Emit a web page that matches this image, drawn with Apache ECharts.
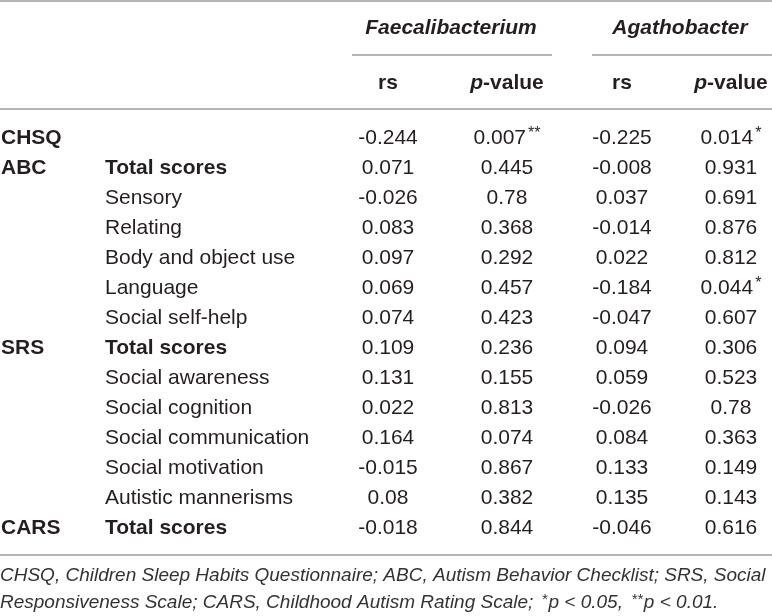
<!DOCTYPE html>
<html>
<head>
<meta charset="utf-8">
<script src="https://cdn.jsdelivr.net/npm/echarts@6/dist/echarts.min.js"></script>
<style>
html, body { margin: 0; padding: 0; background: #fff; }
#main { width: 772px; height: 616px; }
</style>
</head>
<body>
<div id="main"></div>
<script>
// table content
const groups = ['CHSQ', 'ABC', '', '', '', '', '', 'SRS', '', '', '', '', '', 'CARS'];
const subLabels = ['', 'Total scores', 'Sensory', 'Relating', 'Body and object use', 'Language', 'Social self-help',
    'Total scores', 'Social awareness', 'Social cognition', 'Social communication', 'Social motivation',
    'Autistic mannerisms', 'Total scores'];
const faecRs = ['-0.244', '0.071', '-0.026', '0.083', '0.097', '0.069', '0.074', '0.109', '0.131', '0.022', '0.164', '-0.015', '0.08', '-0.018'];
const faecP = ['0.007**', '0.445', '0.78', '0.368', '0.292', '0.457', '0.423', '0.236', '0.155', '0.813', '0.074', '0.867', '0.382', '0.844'];
const agaRs = ['-0.225', '-0.008', '0.037', '-0.014', '0.022', '-0.184', '-0.047', '0.094', '0.059', '-0.026', '0.084', '0.133', '0.135', '-0.046'];
const agaP = ['0.014*', '0.931', '0.691', '0.876', '0.812', '0.044*', '0.607', '0.306', '0.523', '0.78', '0.363', '0.149', '0.143', '0.616'];
const taxa = ['Faecalibacterium', 'Agathobacter'];
const footnote = [
    'CHSQ, Children Sleep Habits Questionnaire; ABC, Autism Behavior Checklist; SRS, Social',
    'Responsiveness Scale; CARS, Childhood Autism Rating Scale; {s|*}p < 0.05, {s|**}p < 0.01.'
];

const FONT = '"Liberation Sans", Arial, sans-serif';
const INK = '#231f20';
const RULE = '#9d9d9d';
const colX = { group: 1, sub: 105, faecRs: 388, faecP: 507, agaRs: 622, agaP: 731 };

// "0.007**" -> rich text with small raised stars
function starText(s) {
    const m = s.match(/^([^*]+)(\**)$/);
    return m[2] ? '{v|' + m[1] + '}{s|' + m[2] + '}' : '{v|' + m[1] + '}';
}
const numRich = {
    v: { fontFamily: FONT, fontSize: 21, fill: INK, lineHeight: 24 },
    s: { fontFamily: FONT, fontSize: 16, fill: INK, verticalAlign: 'top', lineHeight: 24, padding: [0, 0, 8, 2] }
};

function txt(text, x, y, opt) {
    return {
        type: 'text',
        x: x, y: y,
        style: Object.assign({
            text: text, fontFamily: FONT, fontSize: 21, fill: INK,
            align: 'left', verticalAlign: 'middle'
        }, opt || {})
    };
}

function renderRow(params, api) {
    const i = api.value(1);
    const y = api.coord([0, i])[1];
    const bold = subLabels[i] === 'Total scores';
    const kids = [
        txt(groups[i], colX.group, y, { fontWeight: 'bold' }),
        txt(subLabels[i], colX.sub, y, { fontWeight: bold ? 'bold' : 'normal' })
    ];
    [[faecRs, colX.faecRs], [faecP, colX.faecP], [agaRs, colX.agaRs], [agaP, colX.agaP]].forEach(function (c) {
        kids.push(txt(starText(c[0][i]), c[1], y, { align: 'center', rich: numRich }));
    });
    return { type: 'group', children: kids };
}

function rule(x1, x2, y) {
    return { type: 'line', shape: { x1: x1, y1: y, x2: x2, y2: y }, style: { stroke: RULE, lineWidth: 1.5 } };
}

const boldItalic = { i: { fontFamily: FONT, fontSize: 21, fontWeight: 'bold', fontStyle: 'italic', fill: INK } };

const chart = echarts.init(document.getElementById('main'), null, { renderer: 'canvas' });
chart.setOption({
    animation: false,
    backgroundColor: '#fff',
    grid: { left: 0, right: 0, top: 123, bottom: 73 },
    xAxis: { type: 'value', min: 0, max: 772, show: false },
    yAxis: { type: 'category', inverse: true, show: false, data: subLabels.map((_, i) => i) },
    graphic: [
        rule(0, 772, 1),
        txt(taxa[0], 451, 28, { align: 'center', fontWeight: 'bold', fontStyle: 'italic' }),
        txt(taxa[1], 680, 28, { align: 'center', fontWeight: 'bold', fontStyle: 'italic' }),
        rule(352, 552, 55),
        rule(592, 772, 55),
        txt('rs', colX.faecRs, 83, { align: 'center', fontWeight: 'bold' }),
        txt('{i|p}-value', colX.faecP, 83, { align: 'center', fontWeight: 'bold', rich: boldItalic }),
        txt('rs', colX.agaRs, 83, { align: 'center', fontWeight: 'bold' }),
        txt('{i|p}-value', colX.agaP, 83, { align: 'center', fontWeight: 'bold', rich: boldItalic }),
        rule(0, 772, 109),
        rule(0, 772, 555),
        txt(footnote[0], 0, 576, { fontSize: 19, fontStyle: 'italic', fill: '#333' }),
        txt(footnote[1], 0, 603, { fontSize: 19, fontStyle: 'italic', fill: '#333',
            rich: { s: { fontFamily: FONT, fontSize: 15, fontStyle: 'italic', fill: '#333', verticalAlign: 'top', padding: [0, 1, 6, 3] } } })
    ],
    series: [{
        type: 'custom',
        renderItem: renderRow,
        encode: { x: 0, y: 1 },
        data: subLabels.map((_, i) => [0, i])
    }]
});
</script>
</body>
</html>
